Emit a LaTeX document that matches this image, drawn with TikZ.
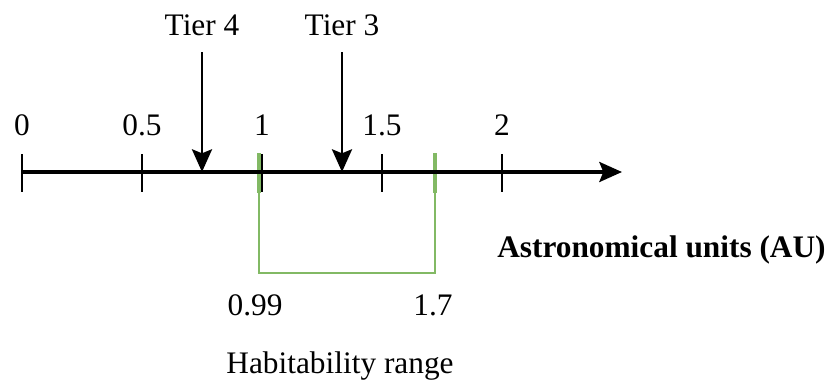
\documentclass[tikz,border=0pt]{standalone}
\usepackage{fontspec}
\setmainfont{Liberation Serif}
\usepackage{xcolor}
\usetikzlibrary{arrows.meta}
\definecolor{habgreen}{RGB}{130,185,100}

\begin{document}
\begin{tikzpicture}[x=0.75pt, y=-0.75pt,
  axis/.style={line width=2.5pt, -{Stealth[length=17pt,width=15pt,inset=3pt]}},
  tickmark/.style={line width=2.2pt},
  pointer/.style={line width=2.2pt, -{Stealth[length=17pt,width=15pt,inset=3pt]}},
  hab/.style={draw=habgreen, line width=1.7pt},
  habtick/.style={draw=habgreen, line width=3.2pt},
  lbl/.style={font=\fontsize{23.5}{28}\selectfont, inner sep=0pt, anchor=base}]
  \useasboundingbox (0,0) rectangle (832,382);
  % axis in AU, 240px per unit
  \coordinate (o) at (22,172); \coordinate (tip) at (622,172);
  \coordinate (lo) at (259,172); \coordinate (hi) at (435,172);
  % habitability bracket
  \draw[hab] (259,153) -- (259,273) -- (435,273) -- (435,153);
  \draw[habtick] (259,153) -- (259,193); \draw[habtick] (435,153) -- (435,193);
  \draw[axis] (o) -- (tip);
  \foreach \v/\lab [count=\i] in {0/0,0.5/0.5,1/1,1.5/1.5,2/2} {
    \draw[tickmark] ({22+240*\v},154) -- ({22+240*\v},192);
    \node[lbl] (au\i) at ({22+240*\v},135) {\lab};
  }
  % tiers
  \node[lbl] (t4) at (202,35) {Tier 4}; \coordinate (p4) at (202,172);
  \node[lbl] (t3) at (342,35) {Tier 3}; \coordinate (p3) at (342,172);
  \draw[pointer] (t4.south |- 0,52) -- (p4);
  \draw[pointer] (t3.south |- 0,52) -- (p3);
  \node[lbl] (lo lbl) at (255,315) {0.99};
  \node[lbl] (hi lbl) at (433,315) {1.7};
  \node[lbl] (range) at (340,373) {Habitability range};
  \node[lbl, anchor=base west, font=\fontsize{23.5}{28}\selectfont\bfseries] (unit) at (497,257) {Astronomical units (AU)};
\end{tikzpicture}
\end{document}
